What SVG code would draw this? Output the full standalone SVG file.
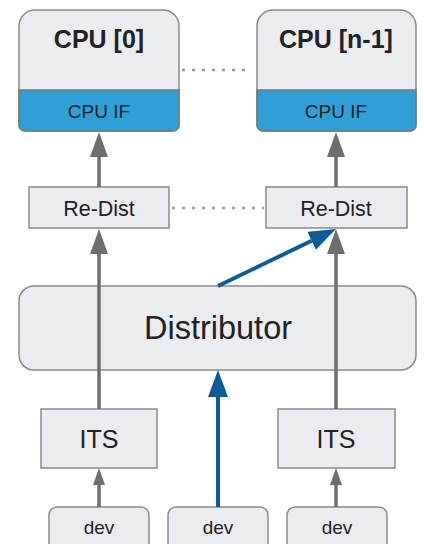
<svg xmlns="http://www.w3.org/2000/svg" width="424" height="544" viewBox="0 0 424 544">
<style>
.box{fill:#ebecef;stroke:#8a8a8a;stroke-width:1.5}
.band{fill:#2f9fd8;stroke:#7a7a7a;stroke-width:1.5}
.t{font-family:"Liberation Sans",Arial,sans-serif;fill:#222;text-anchor:middle}
.g{stroke:#6e6e6e;stroke-width:3.5;fill:none}
.b{stroke:#0b5c99;stroke-width:4;fill:none}
.dot{stroke:#999;stroke-width:2.5;stroke-dasharray:3 7;fill:none}
</style>
<defs>
<marker id="ag" markerUnits="userSpaceOnUse" markerWidth="26" markerHeight="20" refX="0" refY="9" orient="auto"><path d="M0,0 L25,9 L0,18 z" fill="#6e6e6e"/></marker>
<marker id="ags" markerUnits="userSpaceOnUse" markerWidth="18" markerHeight="14" refX="0" refY="6" orient="auto"><path d="M0,0 L17,6 L0,12 z" fill="#6e6e6e"/></marker>
<marker id="ab" markerUnits="userSpaceOnUse" markerWidth="28" markerHeight="22" refX="0" refY="10" orient="auto"><path d="M0,0 L27,10 L0,20 z" fill="#0b5c99"/></marker>
</defs>
<rect width="424" height="544" fill="#fff"/>
<g id="cpu0">
<path class="box" d="M19,26 A16,16 0 0 1 35,10 H163 A16,16 0 0 1 179,26 V125 A6,6 0 0 1 173,131 H25 A6,6 0 0 1 19,125 Z"/>
<path class="band" d="M19,90 H179 V125 A6,6 0 0 1 173,131 H25 A6,6 0 0 1 19,125 Z"/>
<text class="t" x="99" y="48" font-size="25" font-weight="bold">CPU [0]</text>
<text class="t" x="99" y="118" font-size="19">CPU IF</text>
</g>
<g id="cpun">
<path class="box" d="M257,26 A16,16 0 0 1 273,10 H400 A16,16 0 0 1 416,26 V125 A6,6 0 0 1 410,131 H263 A6,6 0 0 1 257,125 Z"/>
<path class="band" d="M257,90 H416 V125 A6,6 0 0 1 410,131 H263 A6,6 0 0 1 257,125 Z"/>
<text class="t" x="336" y="48" font-size="25" font-weight="bold">CPU [n-1]</text>
<text class="t" x="336" y="118" font-size="19">CPU IF</text>
</g>
<g id="redist0">
<rect class="box" x="29" y="187" width="140" height="41"/>
<text class="t" x="99" y="216" font-size="21.5">Re-Dist</text>
</g>
<g id="redistn">
<rect class="box" x="266" y="187" width="141" height="41"/>
<text class="t" x="336" y="216" font-size="21.5">Re-Dist</text>
</g>
<g id="distributor">
<rect class="box" x="19" y="286" width="397" height="84" rx="15"/>
<text class="t" x="218" y="339" font-size="32.5">Distributor</text>
</g>
<g id="its0">
<rect class="box" x="41" y="409" width="116" height="59"/>
<text class="t" x="99" y="448" font-size="25">ITS</text>
</g>
<g id="itsn">
<rect class="box" x="278" y="409" width="117" height="59"/>
<text class="t" x="336" y="448" font-size="25">ITS</text>
</g>
<g id="dev0">
<rect class="box" x="49" y="507" width="100" height="50" rx="8"/>
<text class="t" x="99" y="534" font-size="19">dev</text>
</g>
<g id="dev1">
<rect class="box" x="168" y="507" width="100" height="50" rx="8"/>
<text class="t" x="218" y="534" font-size="19">dev</text>
</g>
<g id="dev2">
<rect class="box" x="287" y="507" width="100" height="50" rx="8"/>
<text class="t" x="337" y="534" font-size="19">dev</text>
</g>
<g id="connectors">
<line class="dot" x1="182" y1="70" x2="252" y2="70"/>
<line class="dot" x1="172" y1="208" x2="264" y2="208"/>
<line class="g" x1="99" y1="187" x2="99" y2="157" marker-end="url(#ag)"/>
<line class="g" x1="336" y1="187" x2="336" y2="157" marker-end="url(#ag)"/>
<line class="g" x1="99" y1="409" x2="99" y2="254" marker-end="url(#ag)"/>
<line class="g" x1="336" y1="409" x2="336" y2="254" marker-end="url(#ag)"/>
<line class="g" x1="99" y1="507" x2="99" y2="485" marker-end="url(#ags)"/>
<line class="g" x1="336" y1="507" x2="336" y2="485" marker-end="url(#ags)"/>
<line class="b" x1="218" y1="507" x2="218" y2="397" marker-end="url(#ab)"/>
<line class="b" x1="218" y1="286" x2="311.6" y2="240.8" marker-end="url(#ab)"/>
</g>
</svg>
